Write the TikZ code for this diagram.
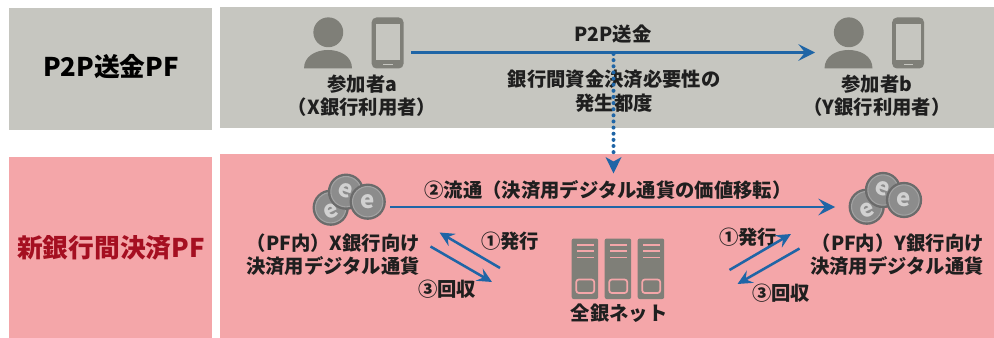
\documentclass[tikz,border=0pt]{standalone}
\usepackage{fontspec}
\setmainfont{Noto Sans CJK JP}
\usetikzlibrary{arrows.meta}
\definecolor{panelgray}{HTML}{C6C6C0}
\definecolor{panelpink}{HTML}{F4A6A9}
\definecolor{icongray}{HTML}{7F7F78}
\definecolor{flowblue}{HTML}{1F65A6}
\definecolor{titlered}{HTML}{A50F21}
\tikzset{
  grayp/.style={fill=panelgray},
  pinkp/.style={fill=panelpink},
  lbl/.style={font=\fontsize{14.5}{16}\selectfont\bfseries,text=black!88,inner sep=0pt},
  ttl/.style={font=\fontsize{19.3}{22}\selectfont\bfseries,inner sep=0pt},
  bigflow/.style={draw=flowblue,line width=2.2pt,-{Stealth[length=12.5pt,width=12.5pt,inset=5pt]}},
  smallflow/.style={draw=flowblue,line width=1.9pt,-{Stealth[length=11pt,width=10.5pt,inset=4pt]}},
  dotflow/.style={draw=flowblue,line width=3pt,line cap=round,dash pattern=on 0pt off 4.6pt},
  user/.pic={
    \fill[icongray] (328.3,32.3) circle[radius=11.2pt];
    \fill[icongray] (304,68.5) .. controls (304,56) and (316,50) .. (328,50)
      .. controls (340,50) and (352,56) .. (352,68.5) -- cycle;
    \fill[icongray,rounded corners=3.5pt] (371.7,17.5) rectangle (403.5,68.5);
    \fill[panelgray] (375.5,24.5) rectangle (400,60.5);
    \fill[panelgray] (383,63.6) rectangle (392.5,65.2);
  },
  serverbox/.pic={
    \fill[icongray,rounded corners=1.5pt] (0,238.5) rectangle (26.5,299);
    \foreach \yy in {245,251,257.5} \fill[panelpink] (5,\yy-0.9) rectangle (22,\yy+0.9);
    \draw[panelpink,line width=1.3pt,rounded corners=2pt] (4.5,279.5) rectangle (22.5,293);
  }
}
\newcommand{\onecoin}[5]{% x y rot name e-offset
  \fill[black!58] (#1,#2) circle[radius=13.6pt];
  \draw[black!36,line width=0.8pt,fill=black!45] (#1,#2) circle[radius=11.4pt];
  \node (#4) [rotate=#3,text=black!18,inner sep=0pt,font=\fontsize{18}{18}\selectfont\bfseries] at (#1,#2+#5) {e};
}
\begin{document}
\begin{tikzpicture}[x=0.75pt,y=-0.75pt]
\useasboundingbox (0,0) rectangle (994,338);
\fill[grayp] (9,8) rectangle (212,130);
\fill[grayp] (220,7) rectangle (994,128);
\fill[pinkp] (9,157) rectangle (212,338);
\fill[pinkp] (220,154) rectangle (994,338);

\node[ttl,text=black] (t1) at (111,67) {P2P送金PF};
\node[ttl,text=titlered] (t2) at (111,248) {新銀行間決済PF};

\pic {user};
\pic at (520.5,0) {user};

\node[lbl] (pa1) at (362.5,84) {参加者a};
\node[lbl] (pa2) at (362,107) {（X銀行利用者）};
\node[lbl] (pb1) at (877,84) {参加者b};
\node[lbl] (pb2) at (877,107) {（Y銀行利用者）};
\node[lbl] (p2p) at (613,34) {P2P送金};
\node[lbl] (need1) at (614,79) {銀行間資金決済必要性の};
\node[lbl] (need2) at (614,103) {発生都度};

\coordinate (p2pS) at (411,52.5);
\coordinate (p2pE) at (815,52.5);
\coordinate (dotS) at (613.5,54);
\coordinate (dotM) at (613.5,156);
\coordinate (dotE) at (613.5,173.5);
\draw[bigflow] (p2pS) -- (p2pE);
\draw[dotflow] (dotS) -- (dotM);
\fill[flowblue] (dotE) -- (605.5,157) -- (613.5,161.5) -- (621.5,157) -- cycle;

\onecoin{330.7}{207.7}{25}{coinxa}{4}
\onecoin{346}{191.7}{-20}{coinxb}{-1}
\onecoin{367.7}{201.7}{0}{coinxc}{0}
\onecoin{866.7}{206.7}{25}{coinya}{4}
\onecoin{883}{190}{-20}{coinyb}{-1}
\onecoin{904}{200}{0}{coinyc}{0}

\node[lbl] (flow) at (608,190) {②流通（決済用デジタル通貨の価値移転）};
\coordinate (flS) at (390,207);
\coordinate (flE) at (835,207);
\draw[bigflow] (flS) -- (flE);

\node[lbl,anchor=east] (xc1) at (420,243) {（PF内）X銀行向け};
\node[lbl,anchor=east] (xc2) at (420,266) {決済用デジタル通貨};
\node[lbl,anchor=east] (yc1) at (984,243) {（PF内）Y銀行向け};
\node[lbl,anchor=east] (yc2) at (984,266) {決済用デジタル通貨};

\node[lbl] (ia) at (510,241) {①発行};
\node[lbl] (ra) at (447,289) {③回収};
\node[lbl] (ib) at (748,237) {①発行};
\node[lbl] (rb) at (781,293) {③回収};
\node[lbl] (zen) at (619,313) {全銀ネット};

\coordinate (a1S) at (500,268);
\coordinate (a1E) at (439.5,232.5);
\coordinate (a3S) at (430.5,246.5);
\coordinate (a3E) at (492,282);
\coordinate (b1S) at (729.5,270);
\coordinate (b1E) at (791,234);
\coordinate (b3S) at (799.5,248.5);
\coordinate (b3E) at (737.5,284);
\draw[smallflow] (a1S) -- (a1E);
\draw[smallflow] (a3S) -- (a3E);
\draw[smallflow] (b1S) -- (b1E);
\draw[smallflow] (b3S) -- (b3E);

\pic at (571.7,0) {serverbox};
\pic at (604.7,0) {serverbox};
\pic at (637.7,0) {serverbox};
\end{tikzpicture}
\end{document}
